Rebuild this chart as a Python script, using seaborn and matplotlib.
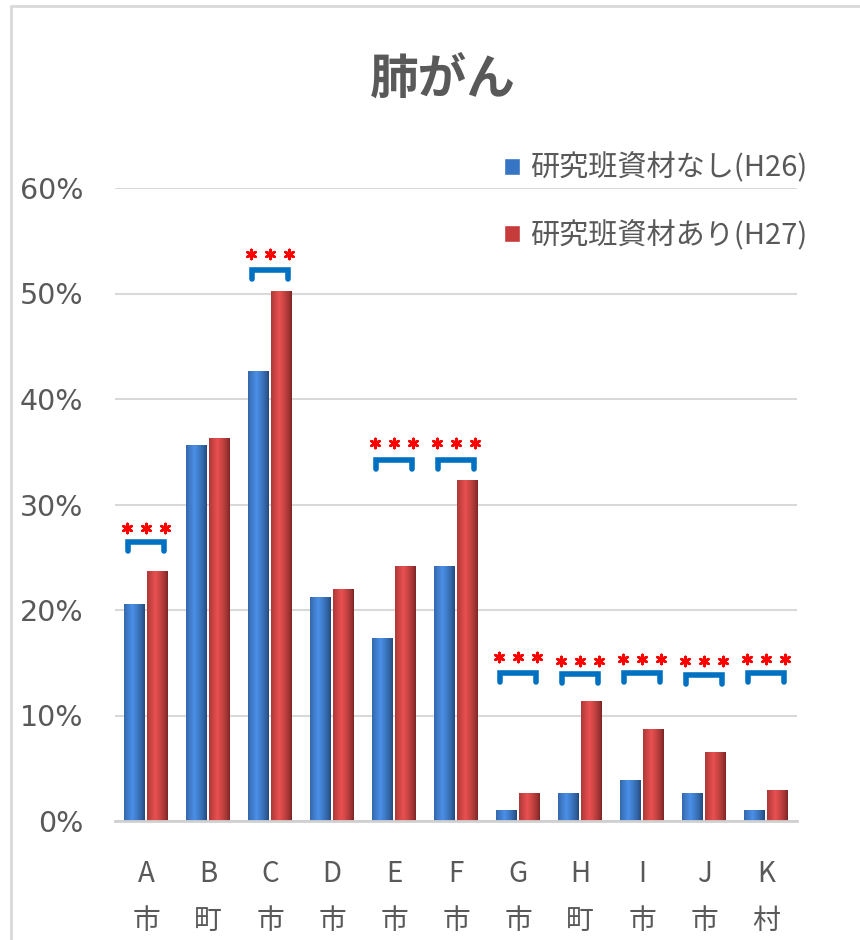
import numpy as np
import pandas as pd
import matplotlib
matplotlib.use('Agg')
import matplotlib.pyplot as plt
import seaborn as sns
from matplotlib.patches import Patch
from matplotlib.lines import Line2D
from matplotlib.colors import to_rgb

# data (percent)
regions = ['A', 'B', 'C', 'D', 'E', 'F', 'G', 'H', 'I', 'J', 'K']
suffix = ['市', '町', '市', '市', '市', '市', '市', '町', '市', '市', '村']
groups = ['研究班資材なし(H26)', '研究班資材あり(H27)']
h26 = [20.6, 35.6, 42.7, 21.2, 17.3, 24.2, 1.0, 2.7, 3.9, 2.7, 1.0]
h27 = [23.7, 36.3, 50.2, 22.0, 24.2, 32.3, 2.7, 11.4, 8.7, 6.5, 2.9]
yticks = [0, 10, 20, 30, 40, 50, 60]

# significance marks: which regions, bracket height, star height
sig_regions = ['A', 'C', 'E', 'F', 'G', 'H', 'I', 'J', 'K']
sig_bracket = [26.4, 52.2, 34.2, 34.2, 14.0, 13.9, 14.0, 13.8, 14.0]
sig_stars = [27.8, 53.7, 35.8, 35.8, 15.5, 15.2, 15.4, 15.2, 15.4]

blue = '#3674c4'
red = '#c63b3b'
grey = '#595959'
cjk = ['Noto Sans CJK JP', 'DejaVu Sans']

sns.set_style('white')
plt.rcParams['font.family'] = ['DejaVu Sans', 'Noto Sans CJK JP']

df = pd.DataFrame({
    'region': regions * 2,
    'group': [groups[0]] * len(regions) + [groups[1]] * len(regions),
    'value': h26 + h27,
})

fig = plt.figure(figsize=(8.6, 9.4), dpi=100)
ax = fig.add_axes([115 / 860, 119 / 940, 682 / 860, 633 / 940])

sns.barplot(data=df, x='region', y='value', hue='group', palette=[blue, red],
            width=0.74, gap=0.1, saturation=1, legend=False, ax=ax,
            edgecolor='none')

# cylinder-like shading on each bar
def shade(base, n=64):
    c = np.array(to_rgb(base))
    t = np.linspace(0, 1, n)
    light = 1 - np.abs(t - 0.4) / 0.6
    light = np.clip(light, 0, 1) ** 0.7
    dark = c * 0.6
    hi = np.clip(c * 1.1 + 0.06, 0, 1)
    cols = dark[None, :] + (hi - dark)[None, :] * light[:, None]
    return cols[None, :, :]

for bar in list(ax.patches):
    x0, w, h = bar.get_x(), bar.get_width(), bar.get_height()
    if h <= 0:
        continue
    grad = shade(bar.get_facecolor())
    im = ax.imshow(grad, extent=[x0, x0 + w, 0, h], aspect='auto',
                   zorder=bar.get_zorder() + 0.1, interpolation='bilinear')
    im.set_clip_path(bar)

ax.set_xlim(-0.5, len(regions) - 0.5)
ax.set_ylim(0, 60)
ax.set_aspect('auto')

# brackets and stars
for reg, yb, ys in zip(sig_regions, sig_bracket, sig_stars):
    i = regions.index(reg)
    ax.plot([i - 0.29, i - 0.29, i + 0.29, i + 0.29], [yb - 0.8, yb, yb, yb - 0.8],
            color='#0070c0', lw=4, solid_joinstyle='miter', zorder=5, clip_on=False)
    ax.scatter([i - 0.31, i, i + 0.31], [ys] * 3, marker=(6, 2, 0), s=42,
               color='#ff0000', linewidths=2.0, zorder=5, clip_on=False)

ax.set_yticks(yticks)
ax.set_yticklabels([f'{v}%' for v in yticks], fontsize=20.5, color=grey)
ax.set_xticks(range(len(regions)))
ax.set_xticklabels([f'{r}\n{s}' for r, s in zip(regions, suffix)],
                   fontsize=20, color=grey, family=cjk, linespacing=1.75)
ax.tick_params(axis='y', length=0, pad=23)
ax.tick_params(axis='x', length=0, pad=27)
ax.set_xlabel('')
ax.set_ylabel('')
ax.set_axisbelow(True)
ax.yaxis.grid(True, color='#d9d9d9', lw=1.5)
for s in ['top', 'right', 'left']:
    ax.spines[s].set_visible(False)
ax.spines['bottom'].set_color('#d0d0d0')
ax.spines['bottom'].set_linewidth(2)

fig.text(443 / 860, 1 - 80 / 940, '肺がん', ha='center', va='center',
         fontsize=35, fontweight='bold', color=grey, family=cjk)

handles = [Patch(facecolor=blue), Patch(facecolor=red)]
leg = fig.legend(handles, groups, loc='upper left',
                 bbox_to_anchor=(478 / 860, 1 - 127 / 940), frameon=False,
                 prop={'family': cjk, 'size': 21}, handlelength=0.55,
                 handleheight=0.55, handletextpad=0.35, labelspacing=1.25)
for t in leg.get_texts():
    t.set_color(grey)

# outer chart frame (left and top edges)
fig.add_artist(Line2D([11 / 860, 11 / 860], [0, 1 - 6 / 940], color='#d9d9d9', lw=2))
fig.add_artist(Line2D([11 / 860, 1], [1 - 6 / 940, 1 - 6 / 940], color='#d9d9d9', lw=2))

fig.savefig('out.png', dpi=100)
